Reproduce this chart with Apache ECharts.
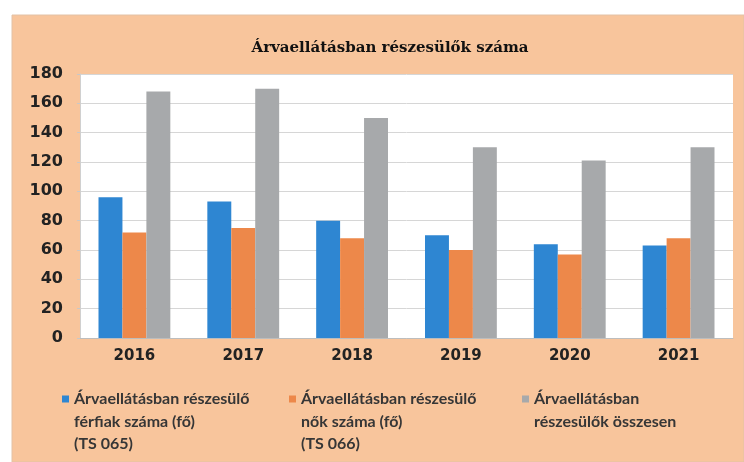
<!DOCTYPE html>
<html>
<head>
<meta charset="utf-8">
<script src="https://cdn.jsdelivr.net/npm/echarts@6/dist/echarts.min.js"></script>
<style>
  html, body { margin: 0; padding: 0; background: #fff; }
  #chart { width: 744px; height: 462px; }
</style>
</head>
<body>
<div id="chart"></div>
<script>
// chart data
const years = ['2016', '2017', '2018', '2019', '2020', '2021']
const seriesNames = [
  'Árvaellátásban részesülő férfiak száma (fő) (TS 065)',
  'Árvaellátásban részesülő nők száma (fő) (TS 066)',
  'Árvaellátásban részesülők összesen'
]
// how the legend breaks each name into lines
const legendLines = [
  ['Árvaellátásban részesülő', 'férfiak száma (fő)', '(TS 065)'],
  ['Árvaellátásban részesülő', 'nők száma (fő)', '(TS 066)'],
  ['Árvaellátásban', 'részesülők összesen']
]
const men = [96, 93, 80, 70, 64, 63]
const women = [72, 75, 68, 60, 57, 68]
const total = [168, 170, 150, 130, 121, 130]
const yTicks = [0, 20, 40, 60, 80, 100, 120, 140, 160, 180]

const color = ['#2E86D2', '#ED884A', '#A7A9AB']
const LINE_H = 22.5

const chart = echarts.init(document.getElementById('chart'))

// one legend per series, so each can sit where it does in the picture.
// blank lines on top keep the icon next to the first line of text
function makeLegend(i, left) {
  const lines = legendLines[i]
  const pad = lines.length - 1
  const total = lines.length + pad
  return {
    data: [seriesNames[i]],
    left: left,
    top: 399 - (total * LINE_H) / 2,
    padding: 0,
    itemWidth: 7,
    itemHeight: 7,
    icon: 'rect',
    selectedMode: false,
    formatter: () => '\n'.repeat(pad) + lines.join('\n'),
    textStyle: {
      fontFamily: 'Lato',
      fontWeight: 'bold',
      fontSize: 16,
      lineHeight: LINE_H,
      color: '#363636'
    }
  }
}

chart.setOption({
  animation: false,
  backgroundColor: '#fff',
  color: color,
  graphic: [{
    type: 'rect',
    z: -10,
    silent: true,
    shape: { x: 12, y: 15, width: 732, height: 447 },
    style: { fill: '#F8C59C', stroke: '#e2c2a6', lineWidth: 1 }
  }],
  title: {
    text: 'Árvaellátásban részesülők száma',
    left: 385,
    top: 36,
    textAlign: 'center',
    textStyle: {
      fontFamily: 'DejaVu Serif',
      fontWeight: 'bold',
      fontSize: 15,
      color: '#111'
    }
  },
  legend: [
    makeLegend(0, 62),
    makeLegend(1, 289),
    makeLegend(2, 522)
  ],
  grid: {
    left: 80,
    right: 11,
    top: 74,
    bottom: 124,
    show: true,
    backgroundColor: '#fff',
    borderWidth: 0
  },
  xAxis: {
    type: 'category',
    data: years,
    axisLine: { lineStyle: { color: '#BDBDBD' } },
    axisTick: { length: 5, lineStyle: { color: '#BDBDBD' } },
    axisLabel: {
      margin: 11,
      fontFamily: 'DejaVu Sans',
      fontWeight: 'bold',
      fontSize: 15,
      color: '#222'
    }
  },
  yAxis: {
    type: 'value',
    min: yTicks[0],
    max: yTicks[yTicks.length - 1],
    interval: 20,
    axisLine: { show: true, lineStyle: { color: '#D0D0D0' } },
    axisTick: { show: true, length: 3, lineStyle: { color: '#C8C8C8' } },
    axisLabel: {
      margin: 17,
      fontFamily: 'DejaVu Sans',
      fontWeight: 'bold',
      fontSize: 16,
      color: '#222'
    },
    splitLine: { lineStyle: { color: '#D6D6D6' } }
  },
  series: [
    { name: seriesNames[0], type: 'bar', data: men, barWidth: '22%', barGap: '0%' },
    { name: seriesNames[1], type: 'bar', data: women, barWidth: '22%', barGap: '0%' },
    { name: seriesNames[2], type: 'bar', data: total, barWidth: '22%', barGap: '0%' }
  ]
})
</script>
</body>
</html>
